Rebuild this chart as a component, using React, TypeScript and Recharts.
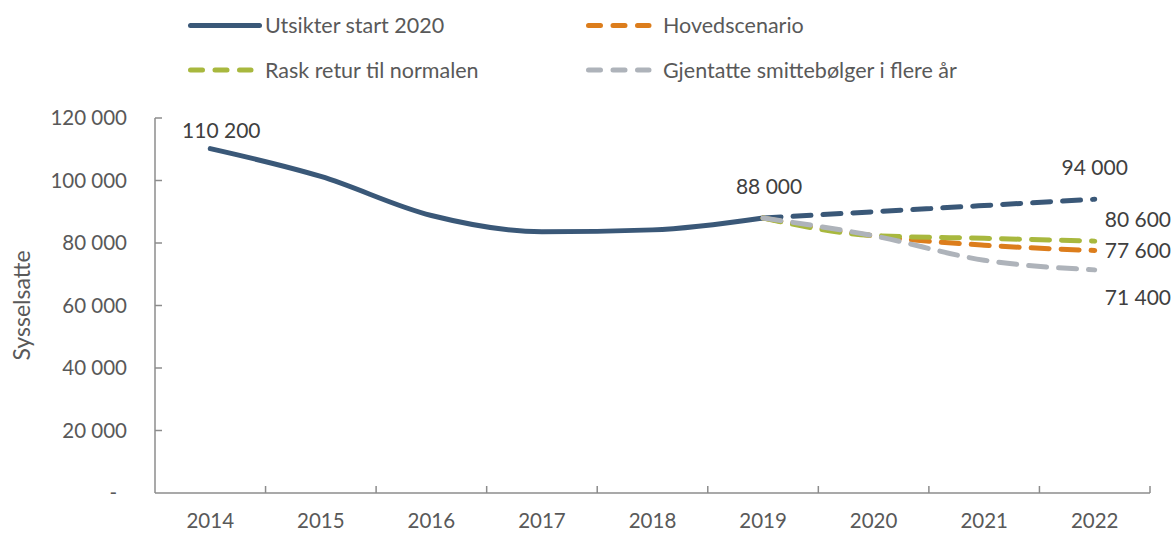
import React from "react";
import { LineChart, Line, XAxis, YAxis, Legend, LabelList, Label } from "recharts";

const years = ["2014", "2015", "2016", "2017", "2018", "2019", "2020", "2021", "2022"];
const faktisk = [110200, 101300, 88800, 83600, 84200, 88000, null, null, null];
const utsikter = [null, null, null, null, null, 88000, 90000, 92000, 94000];
const hovedscenario = [null, null, null, null, null, 88000, 82300, 79300, 77600];
const raskRetur = [null, null, null, null, null, 88000, 82400, 81500, 80600];
const gjentatte = [null, null, null, null, null, 88000, 82300, 74500, 71400];
const yTicks = [0, 20000, 40000, 60000, 80000, 100000, 120000];

const BLUE = "#3a5878";
const ORANGE = "#dc7d1c";
const GREEN = "#a8b83e";
const GRAY = "#aeb3ba";
const TEXT = "#595959";
const AXIS = "#8c8c8c";
const FONT = "Lato, 'Open Sans', sans-serif";

const W = 1173;
const H = 534;
const PLOT_LEFT = 155;
const PLOT_RIGHT = 1150;
const HALF_BAND = (PLOT_RIGHT - PLOT_LEFT) / years.length / 2;

const data = years.map((year, i) => ({
  year,
  faktisk: faktisk[i],
  utsikter: utsikter[i],
  hovedscenario: hovedscenario[i],
  raskRetur: raskRetur[i],
  gjentatte: gjentatte[i],
}));

const fmt = (v: number) => String(v).replace(/\B(?=(\d{3})+(?!\d))/g, " ");

const XTick = (props: any) => {
  const { x, y, payload } = props;
  const axisY = y - 20;
  return (
    <g>
      <text x={x} y={y} dy="0.71em" textAnchor="middle" fill={TEXT} fontSize={20.5} fontFamily={FONT}>
        {payload.value}
      </text>
      <line x1={x + HALF_BAND} x2={x + HALF_BAND} y1={axisY} y2={axisY - 7} stroke={AXIS} strokeWidth={1.5} />
    </g>
  );
};

const YTick = (props: any) => {
  const { x, y, payload } = props;
  const axisX = x + 28;
  const zero = payload.value === 0;
  return (
    <g>
      <text x={zero ? x - 10 : x} y={y} dy="0.355em" textAnchor="end" fill={TEXT} fontSize={20.5} fontFamily={FONT}>
        {zero ? "-" : fmt(payload.value)}
      </text>
      {!zero && <line x1={axisX} x2={axisX + 7} y1={y} y2={y} stroke={AXIS} strokeWidth={1.5} />}
    </g>
  );
};

const endLabel = (idx: number, dx: number, dy: number, anchor: string) => (props: any) => {
  if (props.index !== idx || props.value == null) return null;
  return (
    <text x={props.x + dx} y={props.y + dy} textAnchor={anchor} fill="#404040" fontSize={21} fontFamily={FONT}>
      {fmt(props.value)}
    </text>
  );
};

const legendItems = [
  { name: "Utsikter start 2020", color: BLUE, dashed: false, x: 188, y: 25.5 },
  { name: "Hovedscenario", color: ORANGE, dashed: true, x: 586, y: 25.5 },
  { name: "Rask retur til normalen", color: GREEN, dashed: true, x: 188, y: 70 },
  { name: "Gjentatte smittebølger i flere år", color: GRAY, dashed: true, x: 586, y: 70 },
];

const LegendContent = () => (
  <svg width={W} height={95} style={{ display: "block" }}>
    {legendItems.map((it) => (
      <g key={it.name}>
        <line
          x1={it.x + 2.5}
          x2={it.x + (it.dashed ? 63 : 71.5)}
          y1={it.y}
          y2={it.y}
          stroke={it.color}
          strokeWidth={5}
          strokeLinecap="round"
          strokeDasharray={it.dashed ? "12 12.5" : undefined}
        />
        <text x={it.x + 77} y={it.y} dy="0.36em" fill={TEXT} fontSize={21.5} fontFamily={FONT}>
          {it.name}
        </text>
      </g>
    ))}
  </svg>
);

const YLabel = (props: any) => {
  const vb = props.viewBox;
  const cx = 22;
  const cy = vb.y + vb.height / 2;
  return (
    <text x={cx} y={cy} transform={`rotate(-90 ${cx} ${cy})`} textAnchor="middle" dy="0.36em" fill={TEXT} fontSize={23} fontFamily={FONT}>
      Sysselsatte
    </text>
  );
};

const dash = "18 12";

export default function App() {
  return (
    <div style={{ position: "absolute", left: 0, top: 0 }}>
      <LineChart
        width={W}
        height={H}
        data={data}
        margin={{ top: 118, right: W - PLOT_RIGHT, bottom: 0, left: 0 }}
        style={{ fontFamily: FONT }}
      >
        <XAxis
          dataKey="year"
          height={41}
          interval={0}
          padding={{ left: HALF_BAND, right: HALF_BAND }}
          tickSize={0}
          tickMargin={20}
          tick={<XTick />}
          axisLine={{ stroke: AXIS, strokeWidth: 1.5 }}
        />
        <YAxis
          width={PLOT_LEFT}
          domain={[0, 120000]}
          ticks={yTicks}
          interval={0}
          tickSize={0}
          tickMargin={28}
          tick={<YTick />}
          axisLine={{ stroke: AXIS, strokeWidth: 1.5 }}
        >
          <Label content={<YLabel />} />
        </YAxis>
        <Legend
          layout="horizontal"
          verticalAlign="middle"
          align="center"
          wrapperStyle={{ top: 0, left: 0, width: W }}
          content={<LegendContent />}
        />
        <Line
          dataKey="faktisk"
          name="Utsikter start 2020"
          type="monotone"
          stroke={BLUE}
          strokeWidth={5}
          strokeLinecap="round"
          dot={false}
          activeDot={false}
          isAnimationActive={false}
        >
          <LabelList dataKey="faktisk" content={endLabel(0, 11, -11, "middle")} />
          <LabelList dataKey="faktisk" content={endLabel(5, 6, -24, "middle")} />
        </Line>
        <Line
          dataKey="utsikter"
          type="monotone"
          stroke={BLUE}
          strokeWidth={5}
          strokeLinecap="round"
          strokeDasharray={dash}
          dot={false}
          activeDot={false}
          legendType="none"
          isAnimationActive={false}
        >
          <LabelList dataKey="utsikter" content={endLabel(8, 0, -24, "middle")} />
        </Line>
        <Line
          dataKey="hovedscenario"
          name="Hovedscenario"
          type="monotone"
          stroke={ORANGE}
          strokeWidth={5}
          strokeLinecap="round"
          strokeDasharray={dash}
          dot={false}
          activeDot={false}
          isAnimationActive={false}
        >
          <LabelList dataKey="hovedscenario" content={endLabel(8, 10, 7, "start")} />
        </Line>
        <Line
          dataKey="raskRetur"
          name="Rask retur til normalen"
          type="monotone"
          stroke={GREEN}
          strokeWidth={5}
          strokeLinecap="round"
          strokeDasharray={dash}
          dot={false}
          activeDot={false}
          isAnimationActive={false}
        >
          <LabelList dataKey="raskRetur" content={endLabel(8, 10, -14, "start")} />
        </Line>
        <Line
          dataKey="gjentatte"
          name="Gjentatte smittebølger i flere år"
          type="monotone"
          stroke={GRAY}
          strokeWidth={5}
          strokeLinecap="round"
          strokeDasharray={dash}
          dot={false}
          activeDot={false}
          isAnimationActive={false}
        >
          <LabelList dataKey="gjentatte" content={endLabel(8, 10, 35, "start")} />
        </Line>
      </LineChart>
    </div>
  );
}
